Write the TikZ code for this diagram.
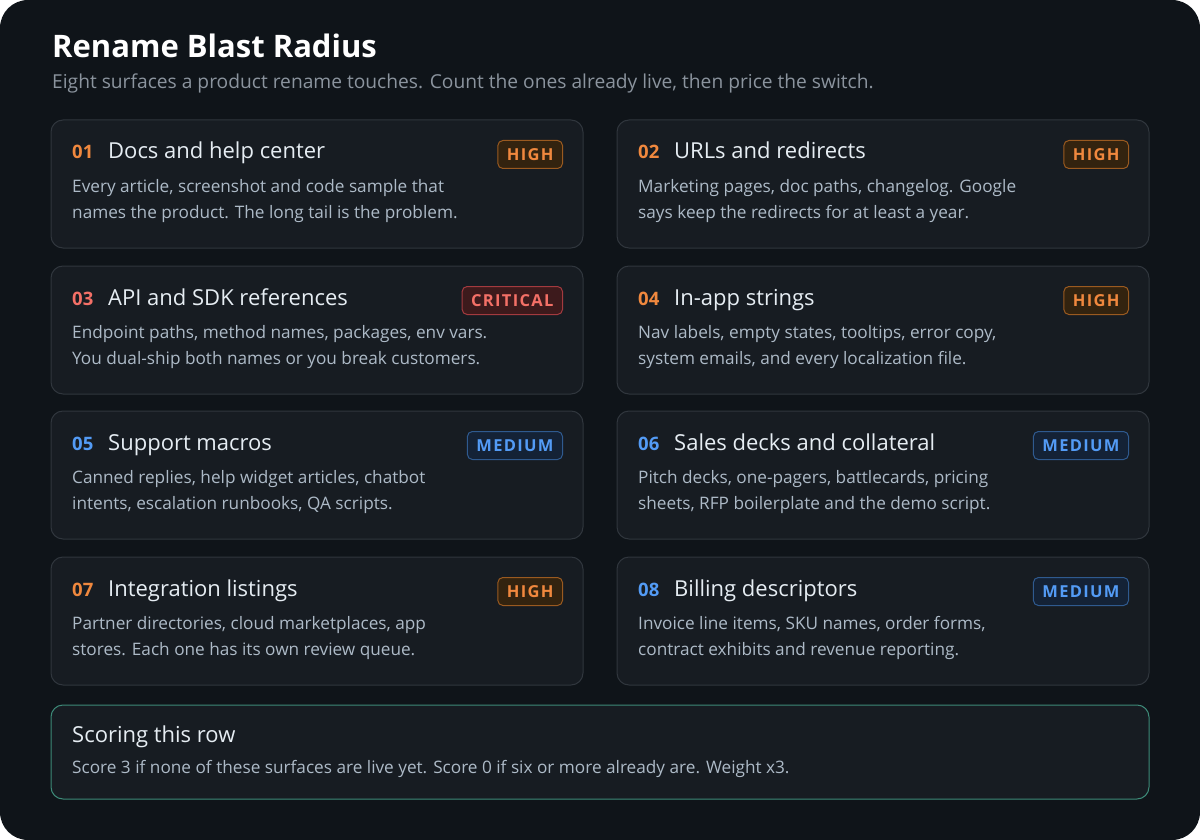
\documentclass[tikz,border=0pt]{standalone}
\usepackage{fontspec}
\setmainfont{Open Sans}
\begin{document}
\definecolor{bg}{HTML}{0F1419}
\definecolor{cardf}{HTML}{171C22}
\definecolor{cardb}{HTML}{30363D}
\definecolor{ttl}{HTML}{E6EDF3}
\definecolor{bod}{HTML}{ADBAC7}
\definecolor{sub}{HTML}{8B949E}
\definecolor{orT}{HTML}{F0883E}\definecolor{orF}{HTML}{33230F}\definecolor{orB}{HTML}{9A5A20}
\definecolor{rdT}{HTML}{F47067}\definecolor{rdF}{HTML}{3D1A1C}\definecolor{rdB}{HTML}{A33A3F}
\definecolor{blT}{HTML}{539BF5}\definecolor{blF}{HTML}{142236}\definecolor{blB}{HTML}{2F5A8F}
\definecolor{teal}{HTML}{3D8A78}
\begin{tikzpicture}[x=1pt,y=-1pt,
  card/.style={draw=cardb,fill=cardf,rounded corners=12pt,line width=1pt},
  num/.style={anchor=base west,font=\fontsize{18.5}{20}\selectfont\bfseries,inner sep=0},
  ctitle/.style={anchor=base west,text=ttl,font=\fontsize{22}{24}\selectfont,inner sep=0},
  body/.style={anchor=north west,text=bod,font=\fontsize{17.2}{26}\selectfont,inner sep=0,align=left},
  badge/.style={anchor=north east,rounded corners=5pt,line width=1pt,minimum height=28pt,inner xsep=9pt,inner ysep=0pt,font=\fontsize{16.5}{18}\selectfont\bfseries\addfontfeature{LetterSpace=8}}]
\useasboundingbox (0,0) rectangle (1200,840);
\fill[white] (0,0) rectangle (1200,840);
\fill[bg,rounded corners=28pt] (0,0) rectangle (1200,840);
\node[anchor=base west,inner sep=0,text=white,font=\fontsize{31}{34}\selectfont\bfseries] (title) at (52,58) {Rename Blast Radius};
\node[anchor=base west,inner sep=0,text=sub,font=\fontsize{19.2}{22}\selectfont] (subt) at (52,89) {Eight surfaces a product rename touches. Count the ones already live, then price the switch.};
\newcommand\mycard[9]{%
  \draw[card] (#1,#2) rectangle ++(532,128);
  \node[num,text=#5] (n#3) at (#1+21,#2+39) {#3};
  \node[ctitle] (t#3) at (#1+57,#2+39) {#4};
  \node[body] (b#3) at (#1+21,#2+59) {#6\\#7};
  \node[badge,draw=#8B,fill=#8F,text=#8T] (g#3) at (#1+512,#2+20) {#9};
}
\mycard{51}{120}{01}{Docs and help center}{orT}{Every article, screenshot and code sample that}{names the product. The long tail is the problem.}{or}{HIGH}
\mycard{617}{120}{02}{URLs and redirects}{orT}{Marketing pages, doc paths, changelog. Google}{says keep the redirects for at least a year.}{or}{HIGH}
\mycard{51}{266}{03}{API and SDK references}{rdT}{Endpoint paths, method names, packages, env vars.}{You dual-ship both names or you break customers.}{rd}{CRITICAL}
\mycard{617}{266}{04}{In-app strings}{orT}{Nav labels, empty states, tooltips, error copy,}{system emails, and every localization file.}{or}{HIGH}
\mycard{51}{411}{05}{Support macros}{blT}{Canned replies, help widget articles, chatbot}{intents, escalation runbooks, QA scripts.}{bl}{MEDIUM}
\mycard{617}{411}{06}{Sales decks and collateral}{blT}{Pitch decks, one-pagers, battlecards, pricing}{sheets, RFP boilerplate and the demo script.}{bl}{MEDIUM}
\mycard{51}{557}{07}{Integration listings}{orT}{Partner directories, cloud marketplaces, app}{stores. Each one has its own review queue.}{or}{HIGH}
\mycard{617}{557}{08}{Billing descriptors}{blT}{Invoice line items, SKU names, order forms,}{contract exhibits and revenue reporting.}{bl}{MEDIUM}
\draw[card,draw=teal] (51,705) rectangle (1149,799);
\node[ctitle] (st) at (72,742) {Scoring this row};
\node[body] (sb) at (72,760) {Score 3 if none of these surfaces are live yet. Score 0 if six or more already are. Weight x3.};
\end{tikzpicture}
\end{document}
